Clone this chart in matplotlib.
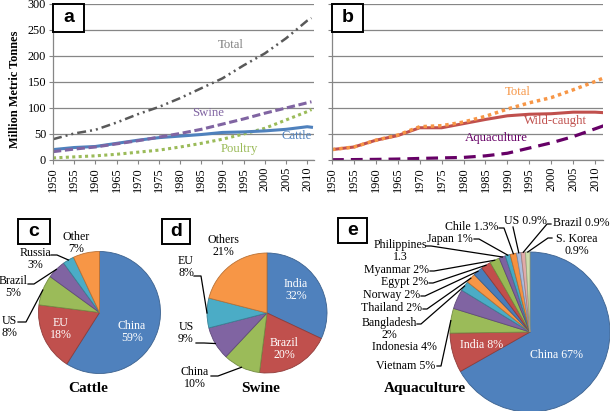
import numpy as np
import matplotlib
matplotlib.use("Agg")
import matplotlib.pyplot as plt
from matplotlib.patches import Rectangle

W, H = 610, 411
SERIF = "Liberation Serif"
SANS = "Liberation Sans"
plt.rcParams["font.family"] = SERIF

# ---- panel a: meat production (million metric tonnes)
years_a = [1950, 1955, 1960, 1965, 1970, 1975, 1980, 1985, 1990, 1995, 2000, 2005, 2010, 2011]
meat_total = [40, 51, 58, 72, 88, 102, 119, 138, 157, 182, 205, 234, 268, 273]
swine = [16, 21, 25, 31, 37, 44, 51, 59, 69, 79, 90, 100, 110, 112]
cattle = [20, 24, 26, 32, 38, 43, 46, 49, 53, 54, 56, 59, 64, 63]
poultry = [4, 6, 8, 11, 15, 19, 25, 32, 40, 50, 61, 77, 93, 97]

# ---- panel b: fish production
years_b = [1950, 1955, 1960, 1965, 1970, 1975, 1980, 1985, 1990, 1995, 2000, 2005, 2010, 2012]
fish_total = [20, 25, 38, 48, 64, 66, 73, 84, 98, 110, 120, 135, 151, 158]
wild_caught = [20, 25, 38, 47, 62, 62, 70, 78, 85, 88, 89, 92, 92, 91]
aquaculture = [0.5, 0.8, 1.2, 1.8, 3, 4, 5, 8, 13, 23, 33, 45, 60, 66]

# ---- pies
cattle_names = ["China", "EU", "US", "Brazil", "Russia", "Other"]
cattle_share = [59, 18, 8, 5, 3, 7]
swine_names = ["India", "Brazil", "China", "US", "EU", "Others"]
swine_share = [32, 20, 10, 9, 8, 21]
aqua_names = ["China", "India", "Vietnam", "Indonesia", "Bangladesh", "Thailand", "Norway",
              "Egypt", "Myanmar", "Philippines", "Japan", "Chile", "US", "Brazil", "S. Korea"]
aqua_share = [67, 8, 5, 4, 2, 2, 2, 2, 2, 1.3, 1, 1.3, 0.9, 0.9, 0.9]

base6 = ["#4F81BD", "#C0504D", "#9BBB59", "#8064A2", "#4BACC6", "#F79646"]
aqua_colors = base6 + ["#4A7DBA", "#C24E4B", "#98B954", "#7D62A0", "#47A9C4", "#F6913F",
                       "#A9BCDE", "#E0AAA9", "#CFDDAC"]

fig = plt.figure(figsize=(6.1, 4.11), dpi=100)


def px_axes(x0, y0, x1, y1):
    return fig.add_axes([x0 / W, 1 - y1 / H, (x1 - x0) / W, (y1 - y0) / H])


def style_axes(ax, xmax, ylabels=True):
    ax.set_xlim(1950, xmax)
    ax.set_ylim(0, 300)
    ax.set_xticks(range(1950, 2011, 5))
    ax.set_yticks(range(0, 301, 50))
    ax.grid(axis="y", color="#868686", lw=0.9)
    ax.set_axisbelow(True)
    ax.spines["top"].set_visible(False)
    ax.spines["right"].set_visible(False)
    for s in ["left", "bottom"]:
        ax.spines[s].set_color("#868686")
        ax.spines[s].set_linewidth(0.9)
    ax.tick_params(axis="x", labelrotation=90, labelsize=8.8, length=3, color="#868686", pad=2)
    ax.tick_params(axis="y", labelsize=8.8, length=3, color="#868686", pad=2, labelleft=ylabels)


ax_a = px_axes(53, 4, 314, 160)
style_axes(ax_a, 2011.6)
ax_a.plot(years_a, meat_total, color="#595959", lw=1.8, dashes=(3.6, 1.6, 0.8, 1.6, 0.8, 1.6))
ax_a.plot(years_a, poultry, color="#9BBB59", lw=2.2, dashes=(1, 1.1))
ax_a.plot(years_a, cattle, color="#4F81BD", lw=2.2)
ax_a.plot(years_a, swine, color="#8064A2", lw=2.2, dashes=(2.7, 1.2))
ax_a.text(1992, 221, "Total", color="#808080", fontsize=9.2, ha="center", va="center")
ax_a.text(1986.6, 90, "Swine", color="#8064A2", fontsize=9.2, ha="center", va="center")
ax_a.text(2004, 47, "Cattle", color="#4F81BD", fontsize=9.2, ha="left", va="center", clip_on=True)
ax_a.text(1994, 21, "Poultry", color="#9BBB59", fontsize=9.2, ha="center", va="center")
fig.text(15 / W, 1 - 89 / H, "Million Metric Tonnes", rotation=90, fontsize=8.8,
         fontweight="bold", ha="center", va="center")

ax_b = px_axes(332, 4, 603, 160)
style_axes(ax_b, 2011.8, ylabels=False)
ax_b.plot(years_b, wild_caught, color="#C0504D", lw=2.2)
ax_b.plot(years_b, fish_total, color="#F79646", lw=2.5, dashes=(1, 1.1))
ax_b.plot(years_b, aquaculture, color="#660066", lw=2.3, dashes=(3.7, 2.2))
ax_b.text(1992.4, 131, "Total", color="#F79646", fontsize=9.2, ha="center", va="center")
ax_b.text(2000.9, 75, "Wild-caught", color="#C0504D", fontsize=9.2, ha="center", va="center")
ax_b.text(1987.4, 42, "Aquaculture", color="#660066", fontsize=9.2, ha="center", va="center")

# overlay in pixel coordinates (y up) for pies, labels and boxes
ov = fig.add_axes([0, 0, 1, 1])


def draw_pie(vals, colors, cx, cy, r):
    wedges, _ = ov.pie(vals, colors=colors, startangle=90, counterclock=False,
                       center=(cx, H - cy), radius=r, wedgeprops=dict(linewidth=0.6))
    for w in wedges:
        fc = np.array(w.get_facecolor()[:3])
        w.set_edgecolor(fc * 0.75)
    return wedges


def mid(w):
    ang = np.deg2rad((w.theta1 + w.theta2) / 2)
    return w.center[0] + w.r * np.cos(ang), w.center[1] + w.r * np.sin(ang)


def leader(w, sx, sy, h):
    wx, wy = mid(w)
    ov.plot([sx, sx + h, wx], [H - sy, H - sy, wy], color="black", lw=0.9)


def lab(x, y, s, color="black", ha="center", size=8.6):
    ov.text(x, H - y, s, ha=ha, va="center", fontsize=size, color=color,
            linespacing=0.98, multialignment="center")


def title(x, y, s):
    ov.text(x, H - y, s, ha="center", va="center", fontsize=11, fontweight="bold")


def panel_box(x0, y0, x1, y1, letter):
    ov.add_patch(Rectangle((x0, H - y1), x1 - x0, y1 - y0, fc="white", ec="black", lw=1.4))
    ov.text((x0 + x1) / 2, H - (y0 + y1) / 2, letter, ha="center", va="center",
            fontsize=14, fontweight="bold", fontfamily=SANS)


wc = draw_pie(cattle_share, base6, 99.5, 312.5, 61)
ws = draw_pie(swine_share, base6, 267, 313, 60)
we = draw_pie(aqua_share, aqua_colors, 530, 332, 80)

ov.set_xlim(0, W)
ov.set_ylim(0, H)
ov.set_aspect("equal")
ov.axis("off")

# cattle labels
lab(132, 332, "China\n59%", color="white")
lab(61, 329, "EU\n18%", color="white")
lab(9, 327, "US\n8%")
lab(13, 287, "Brazil\n5%")
lab(35, 259, "Russia\n3%")
lab(76, 243, "Other\n7%")
leader(wc[2], 18, 322, 8)
leader(wc[3], 28, 284, 6)
leader(wc[4], 51, 255, 6)
title(88, 388, "Cattle")

# swine labels
lab(296, 290, "India\n32%", color="white")
lab(284, 349, "Brazil\n20%", color="white")
lab(223, 246, "Others\n21%")
lab(186, 267, "EU\n8%")
lab(186, 333, "US\n9%")
lab(195, 378, "China\n10%")
leader(ws[4], 194, 276, 7)
leader(ws[3], 196, 343, 8)
leader(ws[2], 211, 376, 7)
title(261, 388, "Swine")

# aquaculture labels
lab(557, 355, "China 67%", color="white")
lab(482, 345, "India 8%", color="white")
lab(435, 366, "Vietnam 5%", ha="right")
lab(437, 347, "Indonesia 4%", ha="right")
lab(389, 329, "Bangladesh\n2%")
lab(422, 308, "Thailand 2%", ha="right")
lab(420, 295, "Norway 2%", ha="right")
lab(428, 282, "Egypt 2%", ha="right")
lab(429, 270, "Myanmar 2%", ha="right")
lab(400, 251, "Philippines\n1.3")
lab(473, 239, "Japan 1%", ha="right")
lab(498, 227, "Chile 1.3%", ha="right")
lab(504, 221, "US 0.9%", ha="left")
lab(553, 223, "Brazil 0.9%", ha="left")
lab(577, 245, "S. Korea\n0.9%")
leader(we[2], 437, 366, 4)
leader(we[4], 417, 324, 4)
leader(we[5], 423, 309, 4)
leader(we[6], 421, 296, 4)
leader(we[7], 429, 283, 4)
leader(we[8], 430, 271, 4)
leader(we[9], 426, 246, 5)
leader(we[10], 474, 239, 5)
leader(we[11], 499, 228, 5)
leader(we[12], 513, 227, 0)
leader(we[13], 551, 224, -4)
leader(we[14], 552, 238, -4)
title(425, 388, "Aquaculture")

panel_box(53, 4, 84, 32, "a")
panel_box(332, 4, 363, 32, "b")
panel_box(18, 219, 50, 244, "c")
panel_box(162, 219, 190, 244, "d")
panel_box(338, 218, 367, 243, "e")

fig.savefig("out.png", dpi=100)
